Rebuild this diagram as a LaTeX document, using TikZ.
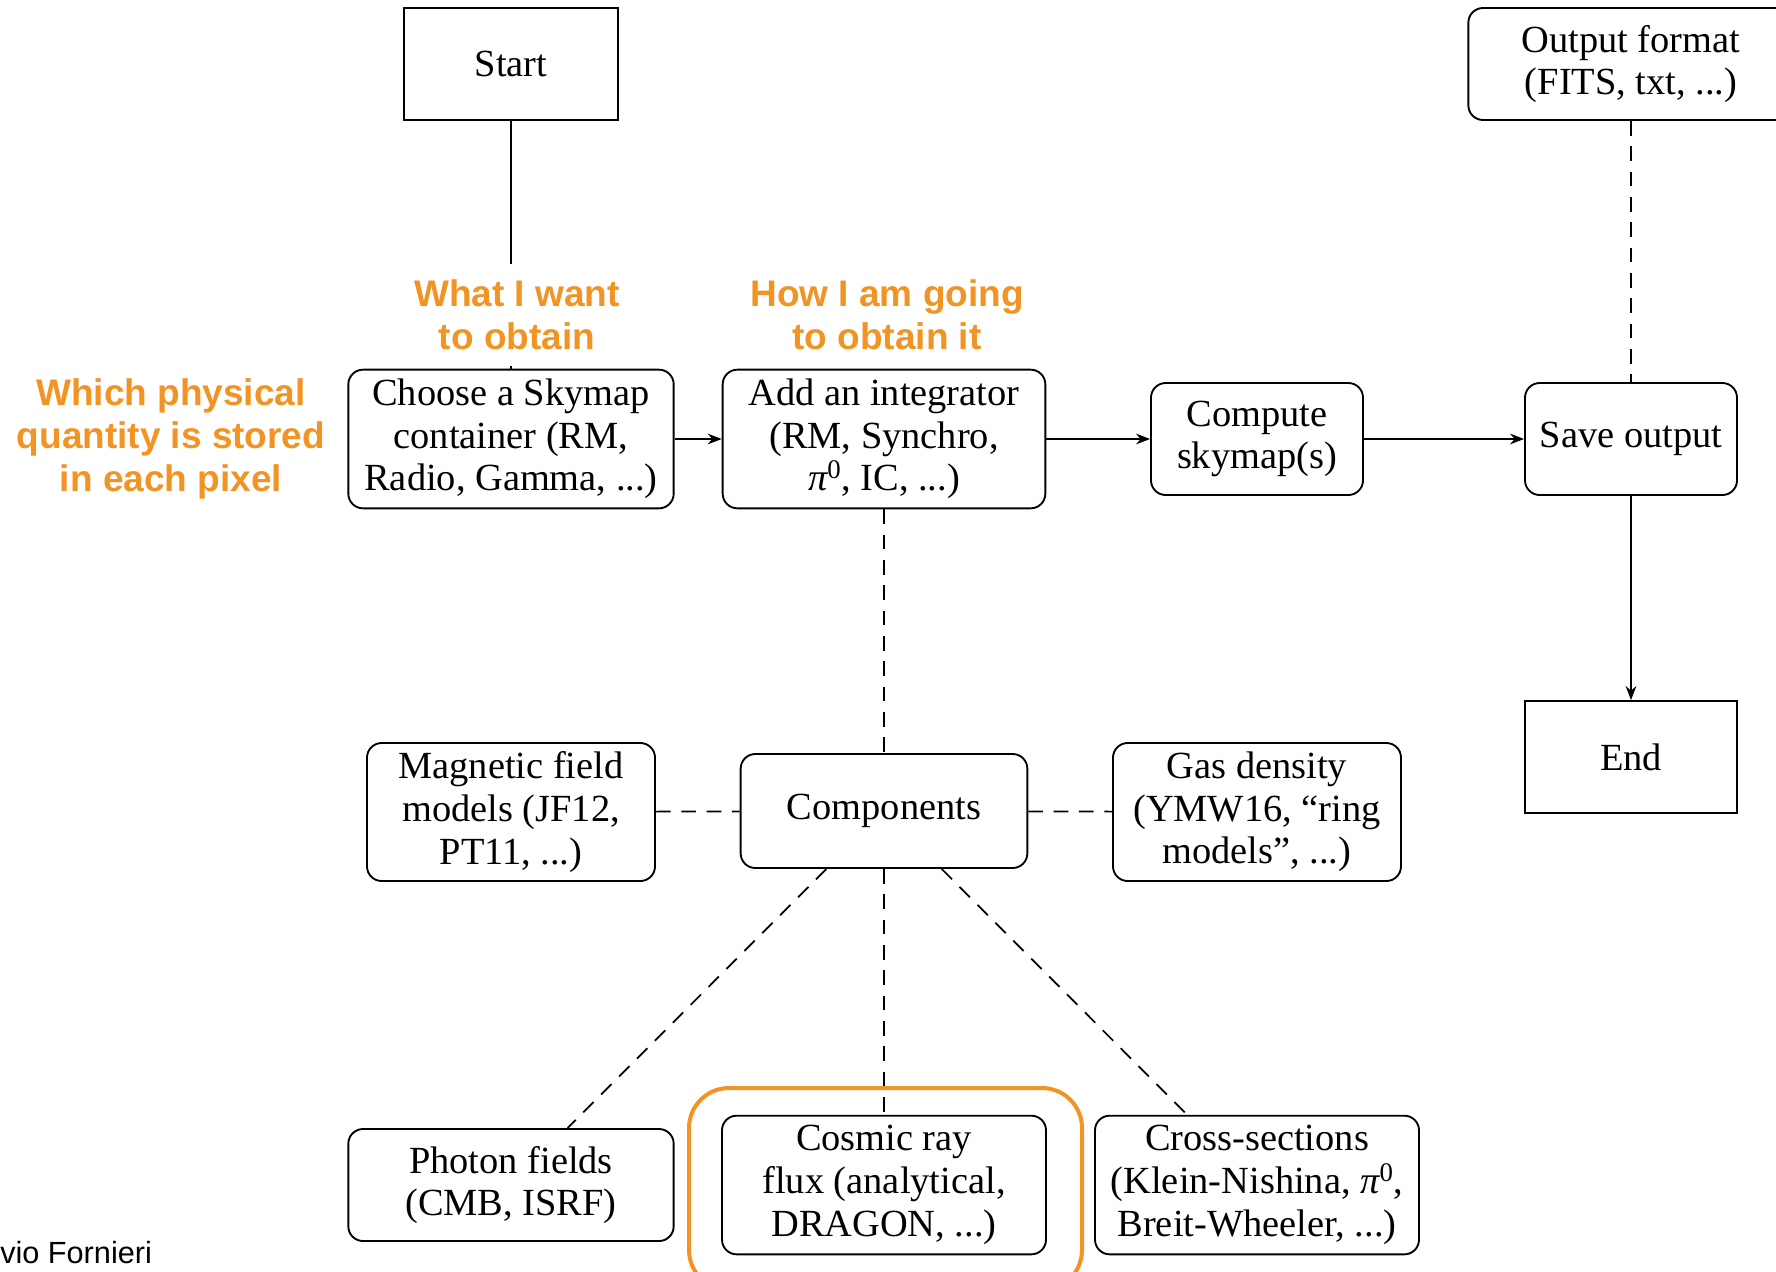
\documentclass[tikz,border=0pt]{standalone}
\usepackage{fontspec}
\setmainfont{Liberation Serif}
\newfontfamily\orfont{Liberation Sans}
\usetikzlibrary{arrows.meta}
\definecolor{orng}{RGB}{242,148,36}
\begin{document}
\begin{tikzpicture}[x=0.75pt,y=-0.75pt,
  box/.style={draw, line width=1.4pt, rounded corners=11pt, inner sep=0pt, align=center,
    font=\fontsize{28.8}{32}\selectfont},
  sqbox/.style={box, rounded corners=0pt},
  conn/.style={line width=1.3pt},
  arr/.style={conn, -{Stealth[length=10.5pt,width=8pt]}},
  dsh/.style={conn, dash pattern=on 11pt off 8pt},
  olabel/.style={text=orng, fill=white, inner sep=0pt, align=center,
    font=\orfont\bfseries\fontsize{27.75}{32}\selectfont},
]
\useasboundingbox (0,0) rectangle (1776,1271);

% main flow
\node[sqbox, minimum width=160pt, minimum height=84pt] (start) at (511,64) {Start};
\node[box, minimum width=244pt, minimum height=84pt] (outfmt) at (1631,64) {Output format\\(FITS, txt, ...)};
\node[box, minimum width=244pt, minimum height=104pt] (choose) at (511,439) {Choose a Skymap\\container (RM,\\Radio, Gamma, ...)};
\node[box, minimum width=242pt, minimum height=104pt] (add) at (884,439) {Add an integrator\\(RM, Synchro,\\{\itshape π}\textsuperscript{0}, IC, ...)};
\node[box, minimum width=159pt, minimum height=84pt] (compute) at (1257,439) {Compute\\skymap(s)};
\node[box, minimum width=159pt, minimum height=84pt] (save) at (1631,439) {Save output};
\node[sqbox, minimum width=159pt, minimum height=84pt] (end) at (1631,757) {End};

% components
\node[box, minimum width=215pt, minimum height=85.5pt] (comp) at (884,811) {Components};
\node[box, minimum width=216pt, minimum height=103.5pt] (mag) at (511,812) {Magnetic field\\models (JF12,\\PT11, ...)};
\node[box, minimum width=216pt, minimum height=103.5pt] (gas) at (1257,812) {Gas density\\(YMW16, “ring\\models”, ...)};
\node[box, minimum width=244pt, minimum height=84pt] (photon) at (511,1185) {Photon fields\\(CMB, ISRF)};
\node[box, minimum width=243pt, minimum height=104pt] (cosmic) at (884,1185) {Cosmic ray\\flux (analytical,\\DRAGON, ...)};
\node[box, minimum width=243pt, minimum height=104pt] (cross) at (1257,1185) {Cross-sections\\(Klein-Nishina, {\itshape π}\textsuperscript{0},\\Breit-Wheeler, ...)};

% highlight
\draw[orng, line width=3pt, rounded corners=30pt] (689,1088) rectangle (1082,1290);

% connectors
\draw[conn] (start) -- (choose);
\draw[arr] (choose) -- (add);
\draw[arr] (add) -- (compute);
\draw[arr] (compute) -- (save);
\draw[arr] (save) -- (end);
\draw[dsh] (outfmt) -- (save);
\draw[dsh] (add) -- (comp);
\draw[dsh] (mag) -- (comp);
\draw[dsh] (comp) -- (gas);
\draw[dsh] (comp) -- (photon);
\draw[dsh] (comp) -- (cosmic);
\draw[dsh] (comp) -- (cross);

% orange labels
\node[olabel, minimum height=76pt] (what) at (517,315) {What I want\\to obtain};
\node[olabel] (how) at (887,315) {How I am going\\to obtain it};
\node[olabel] (which) at (171,439) {Which physical\\quantity is stored\\in each pixel};

% author
\node[anchor=base west, inner sep=0pt, font=\orfont\fontsize{23}{26}\selectfont] (author) at (0,1263) {vio Fornieri};
\end{tikzpicture}
\end{document}
